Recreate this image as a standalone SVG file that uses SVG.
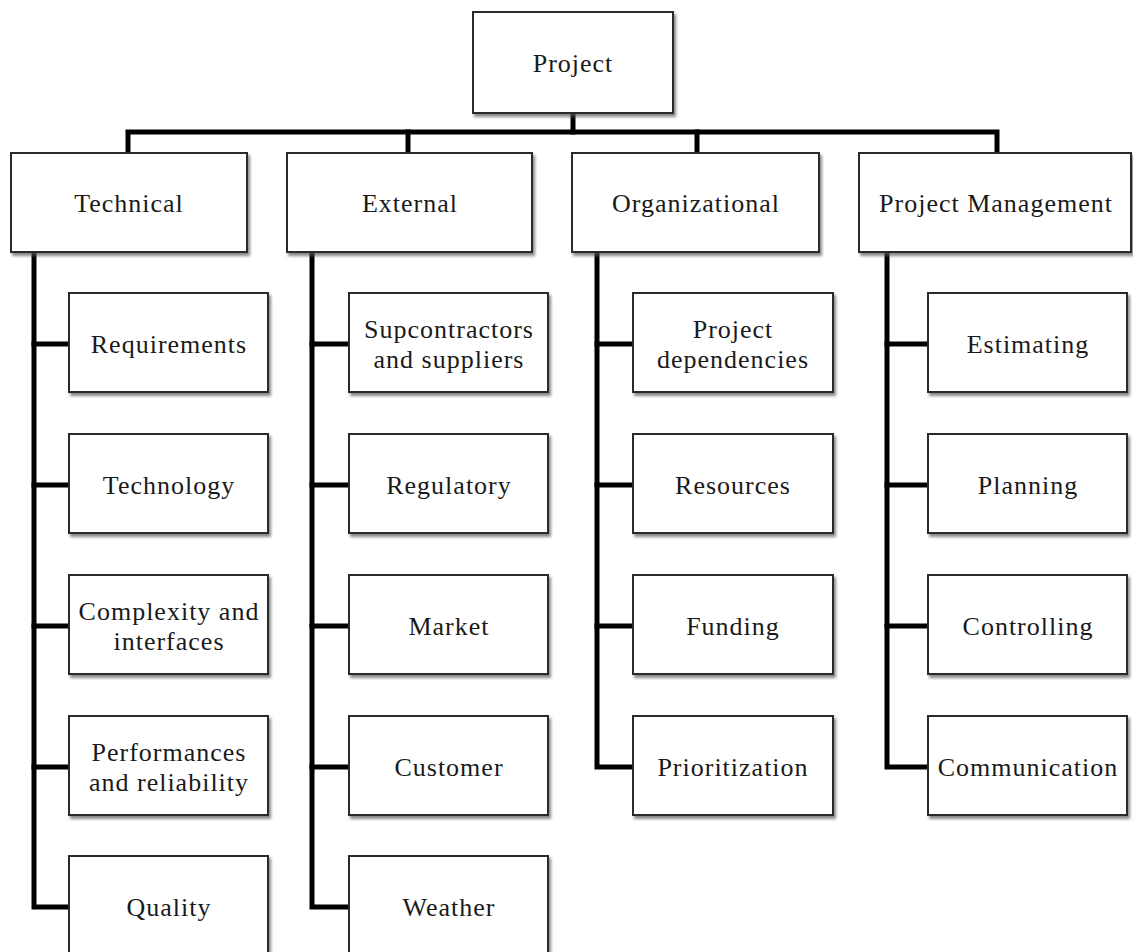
<svg xmlns="http://www.w3.org/2000/svg" width="1133" height="952" viewBox="0 0 1133 952">
  <style>
    .box { fill: #ffffff; stroke: #2a2a2a; stroke-width: 2; filter: url(#shadow); }
    .lbl { font-family: "Liberation Serif", "Times New Roman", serif; font-size: 26px; letter-spacing: 1px; fill: #1a1a1a; text-anchor: middle; }
    .wire { fill: none; stroke: #000000; stroke-width: 5; stroke-linejoin: miter; stroke-linecap: square; }
  </style>
  <defs>
    <filter id="shadow" x="-10%" y="-10%" width="125%" height="130%">
      <feDropShadow dx="2" dy="3" stdDeviation="1.5" flood-color="#555555" flood-opacity="0.7"/>
    </filter>
  </defs>
  <rect width="1133" height="952" fill="#ffffff"/>

  <!-- connectors -->
  <g id="connectors" class="wire">
    <path d="M573 113 V132"/>
    <path d="M128 153 V132 H997 V153"/>
    <path d="M408 132 V153"/>
    <path d="M697 132 V153"/>
    <!-- Technical branch -->
    <path d="M34 252 V907 H69"/>
    <path d="M34 344 H69 M34 485 H69 M34 626 H69 M34 767 H69"/>
    <!-- External branch -->
    <path d="M312 252 V907 H349"/>
    <path d="M312 344 H349 M312 485 H349 M312 626 H349 M312 767 H349"/>
    <!-- Organizational branch -->
    <path d="M597 252 V767 H633"/>
    <path d="M597 344 H633 M597 485 H633 M597 626 H633"/>
    <!-- Project Management branch -->
    <path d="M887 252 V767 H928"/>
    <path d="M887 344 H928 M887 485 H928 M887 626 H928"/>
  </g>

  <!-- root -->
  <g id="project">
    <rect class="box" x="473" y="12" width="200" height="101"/>
    <text class="lbl" x="573" y="72">Project</text>
  </g>

  <!-- categories -->
  <g id="technical">
    <rect class="box" x="11" y="153" width="236" height="99"/>
    <text class="lbl" x="129" y="212">Technical</text>
  </g>
  <g id="external">
    <rect class="box" x="287" y="153" width="245" height="99"/>
    <text class="lbl" x="410" y="212">External</text>
  </g>
  <g id="organizational">
    <rect class="box" x="572" y="153" width="247" height="99"/>
    <text class="lbl" x="696" y="212">Organizational</text>
  </g>
  <g id="project-management">
    <rect class="box" x="859" y="153" width="272" height="99"/>
    <text class="lbl" x="996" y="212">Project Management</text>
  </g>

  <!-- Technical items -->
  <g id="requirements">
    <rect class="box" x="69" y="293" width="199" height="99"/>
    <text class="lbl" x="169" y="353">Requirements</text>
  </g>
  <g id="technology">
    <rect class="box" x="69" y="434" width="199" height="99"/>
    <text class="lbl" x="169" y="494">Technology</text>
  </g>
  <g id="complexity">
    <rect class="box" x="69" y="575" width="199" height="99"/>
    <text class="lbl" x="169" y="620">Complexity and</text>
    <text class="lbl" x="169" y="650">interfaces</text>
  </g>
  <g id="performances">
    <rect class="box" x="69" y="716" width="199" height="99"/>
    <text class="lbl" x="169" y="761">Performances</text>
    <text class="lbl" x="169" y="791">and reliability</text>
  </g>
  <g id="quality">
    <rect class="box" x="69" y="856" width="199" height="99"/>
    <text class="lbl" x="169" y="916">Quality</text>
  </g>

  <!-- External items -->
  <g id="subcontractors">
    <rect class="box" x="349" y="293" width="199" height="99"/>
    <text class="lbl" x="449" y="338">Supcontractors</text>
    <text class="lbl" x="449" y="368">and suppliers</text>
  </g>
  <g id="regulatory">
    <rect class="box" x="349" y="434" width="199" height="99"/>
    <text class="lbl" x="449" y="494">Regulatory</text>
  </g>
  <g id="market">
    <rect class="box" x="349" y="575" width="199" height="99"/>
    <text class="lbl" x="449" y="635">Market</text>
  </g>
  <g id="customer">
    <rect class="box" x="349" y="716" width="199" height="99"/>
    <text class="lbl" x="449" y="776">Customer</text>
  </g>
  <g id="weather">
    <rect class="box" x="349" y="856" width="199" height="99"/>
    <text class="lbl" x="449" y="916">Weather</text>
  </g>

  <!-- Organizational items -->
  <g id="dependencies">
    <rect class="box" x="633" y="293" width="200" height="99"/>
    <text class="lbl" x="733" y="338">Project</text>
    <text class="lbl" x="733" y="368">dependencies</text>
  </g>
  <g id="resources">
    <rect class="box" x="633" y="434" width="200" height="99"/>
    <text class="lbl" x="733" y="494">Resources</text>
  </g>
  <g id="funding">
    <rect class="box" x="633" y="575" width="200" height="99"/>
    <text class="lbl" x="733" y="635">Funding</text>
  </g>
  <g id="prioritization">
    <rect class="box" x="633" y="716" width="200" height="99"/>
    <text class="lbl" x="733" y="776">Prioritization</text>
  </g>

  <!-- Project Management items -->
  <g id="estimating">
    <rect class="box" x="928" y="293" width="199" height="99"/>
    <text class="lbl" x="1028" y="353">Estimating</text>
  </g>
  <g id="planning">
    <rect class="box" x="928" y="434" width="199" height="99"/>
    <text class="lbl" x="1028" y="494">Planning</text>
  </g>
  <g id="controlling">
    <rect class="box" x="928" y="575" width="199" height="99"/>
    <text class="lbl" x="1028" y="635">Controlling</text>
  </g>
  <g id="communication">
    <rect class="box" x="928" y="716" width="199" height="99"/>
    <text class="lbl" x="1028" y="776">Communication</text>
  </g>
</svg>
